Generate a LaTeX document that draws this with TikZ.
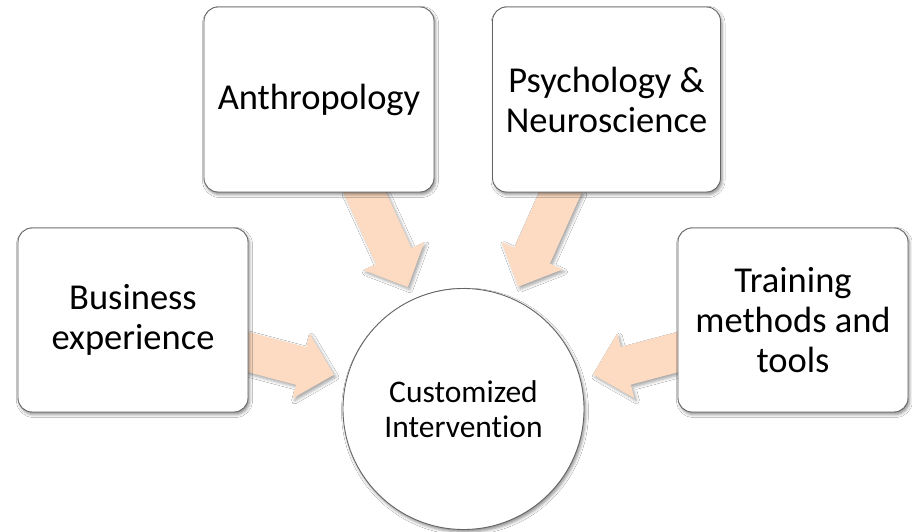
\documentclass[tikz,border=0pt]{standalone}
\usepackage{fontspec}
\setmainfont{Carlito}[Ligatures=NoCommon]
\usetikzlibrary{calc,shadows.blur,backgrounds}
\definecolor{peach}{RGB}{252,219,194}
\definecolor{boxline}{RGB}{100,100,100}
\tikzset{
  softshadow/.style={blur shadow={shadow xshift=1.5pt, shadow yshift=-2.5pt, shadow blur radius=3pt, shadow opacity=45}},
  box/.style={draw=boxline, line width=0.9pt, fill=white, rounded corners=14pt,
    minimum width=230pt, minimum height=185pt, align=center, inner sep=0pt,
    font=\fontsize{36.5}{40}\selectfont, softshadow},
  hub/.style={circle, draw=boxline, line width=0.9pt, fill=white, minimum size=241pt,
    inner sep=0pt, align=center, font=\fontsize{31.5}{35}\selectfont, softshadow},
  arrowfill/.style={fill=peach, draw=none, blur shadow={shadow xshift=2pt, shadow yshift=-2.5pt, shadow blur radius=3pt, shadow opacity=35}}
}
% #1 = start coordinate, #2 = target node
\newcommand\blockarr[2]{%
  \coordinate (ba-t) at ($(#2.center)!134pt!(#1)$);
  \coordinate (ba-h) at ($(ba-t)!34pt!(#1)$);
  \fill[arrowfill] ($(#1)!19.5pt!90:(ba-t)$) -- ($(ba-h)!19.5pt!90:(ba-t)$)
    -- ($(ba-h)!33.5pt!90:(ba-t)$) -- (ba-t) -- ($(ba-h)!33.5pt!-90:(ba-t)$)
    -- ($(ba-h)!19.5pt!-90:(ba-t)$) -- ($(#1)!19.5pt!-90:(ba-t)$) -- cycle;
}
\begin{document}
\begin{tikzpicture}[x=1pt,y=1pt]
  \useasboundingbox (0,0) rectangle (912,532);
  \node[box] (anth) at (319,432.5) {Anthropology};
  \node[box, minimum width=228pt] (psych) at (606.5,432.5) {Psychology \&\\Neuroscience};
  \node[box, minimum height=184pt] (busi) at (133,212) {Business\\experience};
  \node[box, minimum height=184pt] (train) at (793,212) {Training\\methods and\\tools};
  \node[hub] (hub) at (463.5,123) {Customized\\Intervention};
  \coordinate (s-anth) at ($(anth.south)+(42,8)$);
  \coordinate (s-psych) at ($(psych.south)+(-42.5,8)$);
  \coordinate (s-busi) at ($(busi.east)+(-8,-30)$);
  \coordinate (s-train) at ($(train.west)+(8,-30)$);
  \begin{scope}[on background layer]
    \fill[white] (0,0) rectangle (912,532);
    \blockarr{s-anth}{hub}
    \blockarr{s-psych}{hub}
    \blockarr{s-busi}{hub}
    \blockarr{s-train}{hub}
  \end{scope}
\end{tikzpicture}
\end{document}
